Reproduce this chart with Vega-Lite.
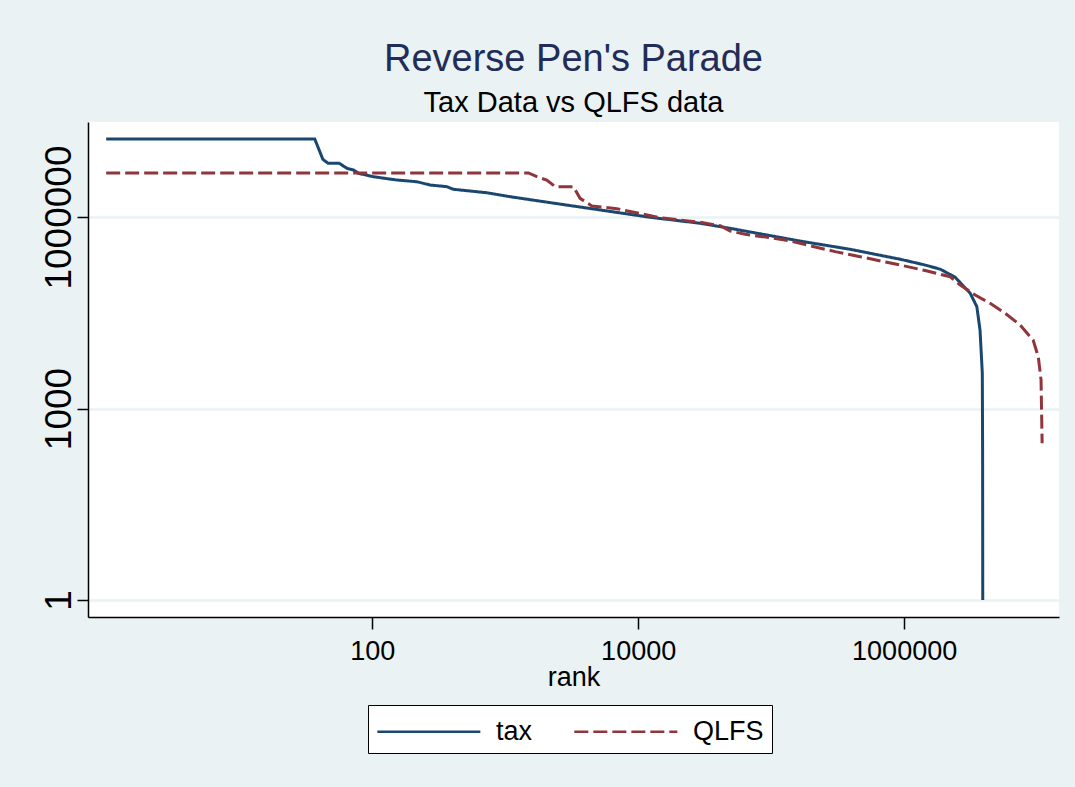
{
  "$schema": "https://vega.github.io/schema/vega-lite/v6.json",
  "width": 971,
  "height": 495,
  "autosize": {"type": "none"},
  "padding": {"left": 88, "top": 122, "right": 16, "bottom": 170},
  "background": "#EAF2F3",
  "title": {
    "text": "Reverse Pen's Parade",
    "subtitle": "Tax Data vs QLFS data",
    "anchor": "middle",
    "font": "Liberation Sans",
    "fontSize": 38,
    "fontWeight": "normal",
    "color": "#1f2d58",
    "subtitleFont": "Liberation Sans",
    "subtitleFontSize": 29,
    "subtitleColor": "#000000",
    "subtitlePadding": 10,
    "offset": 4
  },
  "data": {
    "values": [
      {"series": "tax", "rank": 1, "value": 16700000},
      {"series": "tax", "rank": 37, "value": 16700000},
      {"series": "tax", "rank": 42.6, "value": 8000000},
      {"series": "tax", "rank": 46.6, "value": 6950000},
      {"series": "tax", "rank": 56.5, "value": 6950000},
      {"series": "tax", "rank": 64.6, "value": 5800000},
      {"series": "tax", "rank": 72.3, "value": 5460000},
      {"series": "tax", "rank": 78.9, "value": 4840000},
      {"series": "tax", "rank": 102, "value": 4280000},
      {"series": "tax", "rank": 153, "value": 3800000},
      {"series": "tax", "rank": 217, "value": 3570000},
      {"series": "tax", "rank": 273, "value": 3170000},
      {"series": "tax", "rank": 364, "value": 2990000},
      {"series": "tax", "rank": 408, "value": 2720000},
      {"series": "tax", "rank": 728, "value": 2400000},
      {"series": "tax", "rank": 1091, "value": 2080000},
      {"series": "tax", "rank": 2178, "value": 1680000},
      {"series": "tax", "rank": 5180, "value": 1290000},
      {"series": "tax", "rank": 12300, "value": 990000},
      {"series": "tax", "rank": 29200, "value": 798000},
      {"series": "tax", "rank": 49200, "value": 665000},
      {"series": "tax", "rank": 165000, "value": 420000},
      {"series": "tax", "rank": 393000, "value": 312000},
      {"series": "tax", "rank": 933000, "value": 218000},
      {"series": "tax", "rank": 1440000, "value": 177000},
      {"series": "tax", "rank": 1870000, "value": 152000},
      {"series": "tax", "rank": 2420000, "value": 114000},
      {"series": "tax", "rank": 2640000, "value": 93600},
      {"series": "tax", "rank": 3140000, "value": 63800},
      {"series": "tax", "rank": 3520000, "value": 39400},
      {"series": "tax", "rank": 3720000, "value": 17000},
      {"series": "tax", "rank": 3870000, "value": 3564},
      {"series": "tax", "rank": 3890000, "value": 224},
      {"series": "tax", "rank": 3900000, "value": 1},
      {"series": "QLFS", "rank": 1, "value": 4900000},
      {"series": "QLFS", "rank": 1497, "value": 4900000},
      {"series": "QLFS", "rank": 1730, "value": 4280000},
      {"series": "QLFS", "rank": 2057, "value": 3800000},
      {"series": "QLFS", "rank": 2376, "value": 2990000},
      {"series": "QLFS", "rank": 3260, "value": 2990000},
      {"series": "QLFS", "rank": 3660, "value": 1960000},
      {"series": "QLFS", "rank": 4487, "value": 1490000},
      {"series": "QLFS", "rank": 6918, "value": 1350000},
      {"series": "QLFS", "rank": 14600, "value": 976000},
      {"series": "QLFS", "rank": 29200, "value": 827000},
      {"series": "QLFS", "rank": 41400, "value": 731000},
      {"series": "QLFS", "rank": 49200, "value": 604000},
      {"series": "QLFS", "rank": 63800, "value": 536000},
      {"series": "QLFS", "rank": 98200, "value": 474000},
      {"series": "QLFS", "rank": 139000, "value": 421000},
      {"series": "QLFS", "rank": 196000, "value": 355000},
      {"series": "QLFS", "rank": 303000, "value": 287000},
      {"series": "QLFS", "rank": 467000, "value": 239000},
      {"series": "QLFS", "rank": 933000, "value": 177000},
      {"series": "QLFS", "rank": 1440000, "value": 145000},
      {"series": "QLFS", "rank": 2220000, "value": 116000},
      {"series": "QLFS", "rank": 2640000, "value": 86000},
      {"series": "QLFS", "rank": 3420000, "value": 60000},
      {"series": "QLFS", "rank": 4430000, "value": 44500},
      {"series": "QLFS", "rank": 5750000, "value": 31000},
      {"series": "QLFS", "rank": 7450000, "value": 20300},
      {"series": "QLFS", "rank": 9330000, "value": 11800},
      {"series": "QLFS", "rank": 10200000, "value": 6460},
      {"series": "QLFS", "rank": 10700000, "value": 2800},
      {"series": "QLFS", "rank": 10900000, "value": 285}
    ]
  },
  "mark": {"type": "line", "strokeWidth": 3, "strokeCap": "butt", "clip": true},
  "encoding": {
    "x": {
      "field": "rank",
      "type": "quantitative",
      "scale": {"type": "log", "domain": [0.73, 14600000], "nice": false, "zero": false},
      "axis": {
        "values": [100, 10000, 1000000],
        "format": "d",
        "title": "rank",
        "grid": false,
        "domainColor": "#000000",
        "domainWidth": 1.5,
        "tickColor": "#000000",
        "tickSize": 12,
        "tickWidth": 1.5,
        "labelFont": "Liberation Sans",
        "labelFontSize": 27,
        "labelColor": "#000000",
        "labelPadding": 9,
        "titleFont": "Liberation Sans",
        "titleFontSize": 27,
        "titleFontWeight": "normal",
        "titleColor": "#000000",
        "titlePadding": 0
      }
    },
    "y": {
      "field": "value",
      "type": "quantitative",
      "scale": {"type": "log", "domain": [0.542, 30800000], "nice": false, "zero": false},
      "axis": {
        "values": [1, 1000, 1000000],
        "format": "d",
        "title": null,
        "grid": true,
        "gridColor": "#EAF2F3",
        "gridWidth": 2.5,
        "domainColor": "#000000",
        "domainWidth": 1.5,
        "tickColor": "#000000",
        "tickSize": 11,
        "tickWidth": 1.5,
        "labelAngle": 270,
        "labelAlign": "center",
        "labelBaseline": "alphabetic",
        "labelFont": "Liberation Sans",
        "labelFontSize": 37,
        "labelColor": "#000000",
        "labelPadding": 7
      }
    },
    "color": {
      "field": "series",
      "type": "nominal",
      "sort": ["tax", "QLFS"],
      "scale": {"domain": ["tax", "QLFS"], "range": ["#1A476F", "#90353B"]},
      "legend": {
        "title": null,
        "orient": "none",
        "legendX": 280,
        "legendY": 583,
        "direction": "horizontal",
        "fillColor": "#ffffff",
        "strokeColor": "#000000",
        "padding": 8,
        "symbolType": "M-1,0H5",
        "symbolSize": 1179,
        "symbolStrokeWidth": 2.5,
        "labelFont": "Liberation Sans",
        "labelFontSize": 27,
        "labelColor": "#000000",
        "labelOffset": 83,
        "columnPadding": 36
      }
    },
    "strokeDash": {
      "field": "series",
      "type": "nominal",
      "sort": ["tax", "QLFS"],
      "scale": {"domain": ["tax", "QLFS"], "range": [[1, 0], [14, 5]]},
      "legend": null
    }
  },
  "config": {
    "view": {"fill": "#ffffff", "stroke": null}
  }
}
